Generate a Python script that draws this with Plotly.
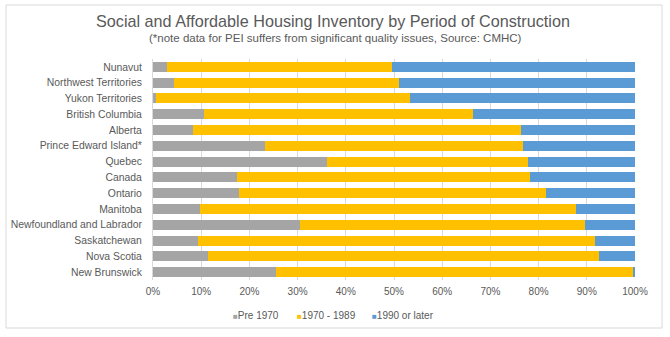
import plotly.graph_objects as go

regions = ["Nunavut", "Northwest Territories", "Yukon Territories", "British Columbia",
           "Alberta", "Prince Edward Island*", "Quebec", "Canada", "Ontario", "Manitoba",
           "Newfoundland and Labrador", "Saskatchewan", "Nova Scotia", "New Brunswick"]
pre1970 = [2.9, 4.4, 0.7, 10.5, 8.2, 23.2, 36.1, 17.4, 17.9, 9.7, 30.5, 9.3, 11.5, 25.6]
cum_1989 = [49.5, 51.0, 53.3, 66.3, 76.3, 76.7, 77.9, 78.2, 81.5, 87.8, 89.6, 91.8, 92.6, 99.7]
p1970_1989 = [round(c - p, 1) for c, p in zip(cum_1989, pre1970)]
p1990 = [round(100 - c, 1) for c in cum_1989]

series_names = ["Pre 1970", "1970 - 1989", "1990 or later"]
series_vals = [pre1970, p1970_1989, p1990]
series_colors = ["#A5A5A5", "#FFC000", "#5B9BD5"]

W, H = 670, 337
L, R, T, B = 153, 35, 59, 57
pw, ph = W - L - R, H - T - B

def px_x(x):
    return (x - L) / pw

def px_y(y):
    return (H - B - y) / ph

fig = go.Figure()
for name, vals, color in zip(series_names, series_vals, series_colors):
    fig.add_trace(go.Bar(y=regions, x=[v / 100 for v in vals], name=name, orientation="h",
                         marker=dict(color=color, line=dict(width=0))))

font_color = "#595959"
fig.update_layout(
    barmode="stack", bargap=0.37,
    width=W, height=H,
    margin=dict(l=L, r=R, t=T, b=B, autoexpand=False),
    paper_bgcolor="white", plot_bgcolor="white",
    font=dict(family="Liberation Sans, Arial, sans-serif", color=font_color, size=10),
    xaxis=dict(range=[0, 1], tickformat=".0%", dtick=0.1, showgrid=True, gridcolor="#D9D9D9",
               zeroline=False, showline=False, ticks="", ticklabelstandoff=4, automargin=False,
               tickfont=dict(size=10, color=font_color)),
    yaxis=dict(autorange="reversed", showline=True, linecolor="#D9D9D9", ticks="",
               ticklabelstandoff=8, automargin=False, tickfont=dict(size=10.4, color=font_color)),
    showlegend=False,
)

fig.add_annotation(text="Social and Affordable Housing Inventory by Period of Construction",
                   xref="paper", yref="paper", x=px_x(W / 2 - 2), y=px_y(21), xanchor="center",
                   yanchor="middle", showarrow=False, font=dict(size=16.2, color=font_color))
fig.add_annotation(text="(*note data for PEI suffers from significant quality issues, Source: CMHC)",
                   xref="paper", yref="paper", x=px_x(335), y=px_y(38), xanchor="center",
                   yanchor="middle", showarrow=False, font=dict(size=11.5, color=font_color))

legend_x = [231, 295, 370]
for name, color, lx in zip(series_names, series_colors, legend_x):
    fig.add_annotation(
        text=f"<span style='color:{color};font-size:8px'>■</span>{name}",
        xref="paper", yref="paper", x=px_x(lx), y=px_y(315), xanchor="left", yanchor="middle",
        showarrow=False, font=dict(size=10, color=font_color))

fig.add_shape(type="rect", xref="paper", yref="paper",
              x0=px_x(6), x1=px_x(662), y0=px_y(328), y1=px_y(5),
              line=dict(color="#D9D9D9", width=1), fillcolor="rgba(0,0,0,0)", layer="below")
fig.write_html("out.html")
